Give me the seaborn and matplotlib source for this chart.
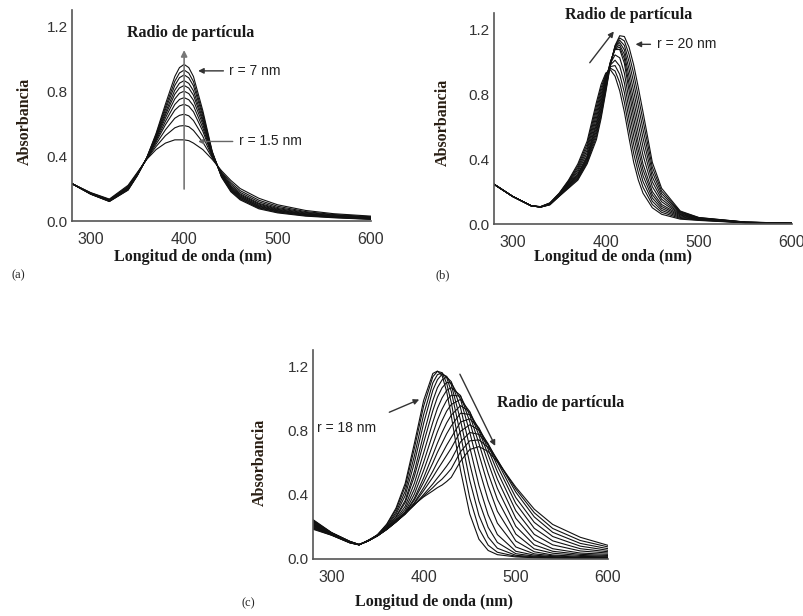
import pandas as pd
import seaborn as sns
import matplotlib.pyplot as plt
from matplotlib.ticker import FormatStrFormatter

# ---- (a) r = 1.5 nm ... 7 nm, peak fixed near 400 nm ----
WL_A = [280, 300, 320, 340, 350, 360, 370, 380, 390, 395, 400, 405, 410,
        420, 430, 440, 450, 460, 480, 500, 530, 560, 600]
ABS_A = [
    [0.23, 0.175, 0.135, 0.22, 0.30, 0.38, 0.44, 0.48, 0.50, 0.50, 0.50, 0.495, 0.48, 0.44, 0.38, 0.31, 0.25, 0.20, 0.14, 0.10, 0.065, 0.045, 0.03],
    [0.23, 0.173, 0.132, 0.214, 0.296, 0.382, 0.459, 0.526, 0.574, 0.585, 0.588, 0.581, 0.558, 0.486, 0.390, 0.302, 0.237, 0.187, 0.128, 0.091, 0.058, 0.040, 0.026],
    [0.23, 0.172, 0.130, 0.210, 0.293, 0.383, 0.474, 0.562, 0.633, 0.651, 0.658, 0.648, 0.619, 0.522, 0.397, 0.296, 0.226, 0.176, 0.118, 0.083, 0.053, 0.037, 0.023],
    [0.23, 0.170, 0.128, 0.206, 0.291, 0.385, 0.487, 0.593, 0.683, 0.709, 0.719, 0.707, 0.673, 0.553, 0.404, 0.291, 0.217, 0.167, 0.109, 0.077, 0.049, 0.033, 0.021],
    [0.23, 0.169, 0.127, 0.203, 0.289, 0.386, 0.496, 0.614, 0.718, 0.749, 0.760, 0.747, 0.710, 0.574, 0.408, 0.288, 0.211, 0.161, 0.104, 0.072, 0.045, 0.031, 0.019],
    [0.23, 0.169, 0.125, 0.201, 0.287, 0.386, 0.505, 0.635, 0.752, 0.787, 0.800, 0.785, 0.744, 0.595, 0.412, 0.284, 0.205, 0.155, 0.098, 0.068, 0.042, 0.029, 0.017],
    [0.23, 0.168, 0.124, 0.198, 0.286, 0.387, 0.512, 0.653, 0.781, 0.820, 0.835, 0.819, 0.775, 0.613, 0.416, 0.281, 0.200, 0.150, 0.093, 0.064, 0.040, 0.027, 0.016],
    [0.23, 0.167, 0.123, 0.196, 0.284, 0.388, 0.519, 0.668, 0.806, 0.849, 0.865, 0.848, 0.802, 0.628, 0.419, 0.279, 0.195, 0.145, 0.089, 0.061, 0.038, 0.025, 0.014],
    [0.23, 0.166, 0.122, 0.194, 0.283, 0.389, 0.526, 0.686, 0.835, 0.883, 0.900, 0.882, 0.833, 0.646, 0.423, 0.276, 0.190, 0.140, 0.084, 0.057, 0.035, 0.024, 0.013],
    [0.23, 0.166, 0.121, 0.192, 0.282, 0.389, 0.533, 0.702, 0.861, 0.912, 0.930, 0.911, 0.859, 0.662, 0.426, 0.273, 0.185, 0.135, 0.080, 0.054, 0.033, 0.022, 0.011],
    [0.23, 0.165, 0.120, 0.190, 0.280, 0.390, 0.540, 0.720, 0.890, 0.945, 0.965, 0.945, 0.890, 0.680, 0.430, 0.270, 0.180, 0.130, 0.075, 0.050, 0.030, 0.020, 0.010],
]

# ---- (b) up to r = 20 nm, small red shift ----
WL_B = [280, 300, 320, 330, 340, 350, 360, 370, 380, 390, 395, 400, 405, 410,
        415, 420, 425, 430, 435, 440, 450, 460, 480, 500, 550, 600]
ABS_B = [
    [0.245, 0.17, 0.112, 0.107, 0.130, 0.190, 0.270, 0.370, 0.510, 0.750, 0.860, 0.930, 0.950, 0.910, 0.820, 0.690, 0.530, 0.380, 0.270, 0.190, 0.100, 0.060, 0.030, 0.022, 0.007, 0.003],
    [0.245, 0.17, 0.112, 0.107, 0.129, 0.188, 0.265, 0.358, 0.492, 0.726, 0.840, 0.921, 0.960, 0.943, 0.871, 0.750, 0.588, 0.435, 0.316, 0.226, 0.120, 0.072, 0.035, 0.024, 0.008, 0.003],
    [0.245, 0.17, 0.112, 0.106, 0.128, 0.186, 0.260, 0.346, 0.474, 0.702, 0.820, 0.912, 0.970, 0.976, 0.922, 0.810, 0.646, 0.490, 0.362, 0.262, 0.140, 0.084, 0.040, 0.026, 0.008, 0.003],
    [0.245, 0.17, 0.112, 0.106, 0.126, 0.184, 0.255, 0.334, 0.456, 0.678, 0.800, 0.903, 0.980, 1.009, 0.973, 0.870, 0.704, 0.545, 0.408, 0.298, 0.160, 0.096, 0.045, 0.027, 0.009, 0.004],
    [0.245, 0.17, 0.112, 0.105, 0.125, 0.182, 0.250, 0.322, 0.438, 0.654, 0.780, 0.894, 0.990, 1.042, 1.024, 0.930, 0.762, 0.600, 0.454, 0.334, 0.180, 0.108, 0.050, 0.029, 0.009, 0.004],
    [0.245, 0.17, 0.112, 0.105, 0.124, 0.180, 0.245, 0.310, 0.420, 0.630, 0.760, 0.885, 1.000, 1.075, 1.075, 0.990, 0.820, 0.655, 0.500, 0.370, 0.200, 0.120, 0.055, 0.031, 0.010, 0.004],
    [0.245, 0.17, 0.112, 0.105, 0.123, 0.178, 0.241, 0.303, 0.412, 0.612, 0.742, 0.873, 0.997, 1.079, 1.089, 1.018, 0.865, 0.709, 0.557, 0.423, 0.230, 0.137, 0.059, 0.033, 0.010, 0.004],
    [0.245, 0.17, 0.112, 0.105, 0.122, 0.177, 0.237, 0.297, 0.403, 0.593, 0.723, 0.860, 0.993, 1.083, 1.103, 1.045, 0.910, 0.763, 0.613, 0.477, 0.260, 0.153, 0.063, 0.034, 0.011, 0.004],
    [0.245, 0.17, 0.112, 0.1045, 0.121, 0.175, 0.233, 0.290, 0.395, 0.575, 0.705, 0.848, 0.990, 1.088, 1.118, 1.073, 0.955, 0.818, 0.670, 0.530, 0.290, 0.170, 0.068, 0.036, 0.011, 0.0045],
    [0.245, 0.17, 0.112, 0.104, 0.120, 0.173, 0.228, 0.283, 0.387, 0.557, 0.687, 0.835, 0.987, 1.092, 1.132, 1.100, 1.000, 0.872, 0.727, 0.583, 0.320, 0.187, 0.072, 0.037, 0.011, 0.0047],
    [0.245, 0.17, 0.112, 0.104, 0.119, 0.172, 0.224, 0.277, 0.378, 0.538, 0.668, 0.823, 0.983, 1.096, 1.146, 1.128, 1.045, 0.926, 0.783, 0.637, 0.350, 0.203, 0.076, 0.039, 0.012, 0.0048],
    [0.245, 0.17, 0.112, 0.104, 0.118, 0.170, 0.220, 0.270, 0.370, 0.520, 0.650, 0.810, 0.980, 1.100, 1.160, 1.155, 1.090, 0.980, 0.840, 0.690, 0.380, 0.220, 0.080, 0.040, 0.012, 0.005],
]

# ---- (c) from r = 18 nm upwards, strong red shift and broadening ----
WL_C = [280, 300, 320, 330, 340, 350, 360, 370, 380, 390, 400, 410, 415,
        420, 425, 430, 440, 450, 460, 470, 480, 500, 520, 540, 570, 600]
ABS_C = [
    [0.245, 0.165, 0.110, 0.090, 0.113, 0.152, 0.217, 0.316, 0.470, 0.720, 0.986, 1.154, 1.169, 1.142, 1.041, 0.890, 0.552, 0.281, 0.123, 0.053, 0.027, 0.013, 0.008, 0.005, 0.003, 0.003],
    [0.241, 0.164, 0.109, 0.090, 0.113, 0.150, 0.214, 0.306, 0.450, 0.689, 0.951, 1.134, 1.167, 1.159, 1.093, 0.973, 0.664, 0.380, 0.189, 0.086, 0.042, 0.017, 0.011, 0.008, 0.004, 0.003],
    [0.237, 0.163, 0.109, 0.090, 0.112, 0.150, 0.206, 0.291, 0.421, 0.642, 0.898, 1.096, 1.147, 1.157, 1.128, 1.043, 0.774, 0.490, 0.271, 0.136, 0.067, 0.023, 0.014, 0.010, 0.006, 0.0045],
    [0.233, 0.162, 0.108, 0.090, 0.113, 0.148, 0.202, 0.278, 0.394, 0.599, 0.844, 1.050, 1.115, 1.149, 1.136, 1.084, 0.863, 0.594, 0.360, 0.197, 0.103, 0.033, 0.018, 0.012, 0.007, 0.005],
    [0.229, 0.160, 0.107, 0.089, 0.113, 0.146, 0.196, 0.264, 0.364, 0.546, 0.776, 0.986, 1.066, 1.114, 1.132, 1.103, 0.941, 0.696, 0.458, 0.274, 0.152, 0.048, 0.024, 0.015, 0.009, 0.006],
    [0.225, 0.159, 0.107, 0.089, 0.113, 0.147, 0.195, 0.259, 0.351, 0.515, 0.723, 0.923, 1.007, 1.065, 1.098, 1.095, 0.994, 0.789, 0.563, 0.367, 0.223, 0.075, 0.032, 0.020, 0.011, 0.0085],
    [0.221, 0.158, 0.106, 0.089, 0.113, 0.146, 0.190, 0.248, 0.328, 0.472, 0.660, 0.851, 0.938, 1.002, 1.049, 1.066, 1.017, 0.855, 0.651, 0.456, 0.297, 0.112, 0.045, 0.025, 0.016, 0.0135],
    [0.217, 0.157, 0.105, 0.089, 0.113, 0.144, 0.188, 0.240, 0.310, 0.435, 0.602, 0.779, 0.864, 0.932, 0.987, 1.019, 1.013, 0.896, 0.719, 0.533, 0.371, 0.155, 0.063, 0.036, 0.022, 0.017],
    [0.213, 0.156, 0.105, 0.089, 0.113, 0.144, 0.185, 0.233, 0.295, 0.404, 0.551, 0.712, 0.792, 0.861, 0.920, 0.961, 0.993, 0.917, 0.769, 0.599, 0.439, 0.203, 0.088, 0.048, 0.029, 0.022],
    [0.209, 0.155, 0.104, 0.089, 0.114, 0.144, 0.183, 0.230, 0.286, 0.378, 0.505, 0.648, 0.721, 0.787, 0.847, 0.895, 0.954, 0.915, 0.799, 0.648, 0.496, 0.253, 0.118, 0.064, 0.037, 0.029],
    [0.205, 0.154, 0.103, 0.089, 0.114, 0.144, 0.185, 0.231, 0.285, 0.368, 0.477, 0.598, 0.664, 0.721, 0.779, 0.828, 0.907, 0.899, 0.813, 0.683, 0.543, 0.300, 0.153, 0.088, 0.050, 0.037],
    [0.201, 0.153, 0.103, 0.089, 0.114, 0.145, 0.184, 0.230, 0.279, 0.351, 0.444, 0.546, 0.603, 0.655, 0.708, 0.756, 0.852, 0.872, 0.814, 0.707, 0.579, 0.345, 0.191, 0.113, 0.064, 0.045],
    [0.197, 0.151, 0.102, 0.088, 0.115, 0.146, 0.186, 0.232, 0.282, 0.346, 0.425, 0.509, 0.556, 0.600, 0.645, 0.690, 0.794, 0.835, 0.802, 0.717, 0.605, 0.382, 0.228, 0.140, 0.080, 0.054],
    [0.193, 0.150, 0.101, 0.088, 0.116, 0.146, 0.187, 0.233, 0.279, 0.336, 0.401, 0.467, 0.504, 0.540, 0.578, 0.619, 0.728, 0.787, 0.775, 0.712, 0.617, 0.416, 0.262, 0.166, 0.097, 0.064],
    [0.189, 0.149, 0.101, 0.088, 0.116, 0.148, 0.188, 0.236, 0.285, 0.337, 0.392, 0.444, 0.473, 0.497, 0.528, 0.562, 0.667, 0.735, 0.741, 0.694, 0.615, 0.435, 0.288, 0.190, 0.115, 0.075],
    [0.185, 0.148, 0.100, 0.088, 0.117, 0.149, 0.191, 0.240, 0.292, 0.340, 0.386, 0.424, 0.444, 0.460, 0.482, 0.508, 0.608, 0.681, 0.699, 0.669, 0.605, 0.447, 0.310, 0.215, 0.135, 0.085],
]

X_LABEL = "Longitud de onda (nm)"
Y_LABEL = "Absorbancia"
RADIO = "Radio de partícula"


def long_form(wl, rows):
    parts = [pd.DataFrame({"wl": wl, "absorbancia": vals, "curva": k})
             for k, vals in enumerate(rows)]
    return pd.concat(parts, ignore_index=True)


sns.set_style("white")
plt.rcParams["font.family"] = ["Liberation Sans", "DejaVu Sans"]
SERIF = ["Liberation Serif", "DejaVu Serif"]

W, H = 804, 616
fig = plt.figure(figsize=(W / 100, H / 100), dpi=100)


def add_panel(left, right, bottom, top):
    return fig.add_axes([left / W, 1 - bottom / H, (right - left) / W, (bottom - top) / H])


def style(ax, xlab_pos, ylab_pos):
    ax.set_xlim(280, 600)
    ax.set_ylim(0, 1.3)
    ax.set_xticks([300, 400, 500, 600])
    ax.set_xticks([350, 450, 550], minor=True)
    ax.set_yticks([0, 0.4, 0.8, 1.2])
    ax.set_yticks([0.2, 0.6, 1.0], minor=True)
    ax.yaxis.set_major_formatter(FormatStrFormatter("%.1f"))
    for s in ("top", "right"):
        ax.spines[s].set_visible(False)
    for s in ("left", "bottom"):
        ax.spines[s].set_color("#555555")
        ax.spines[s].set_linewidth(1.2)
    ax.tick_params(which="both", direction="in", color="#555555",
                   labelcolor="#333333", top=False, right=False)
    ax.tick_params(which="major", length=3.5, width=1)
    ax.tick_params(which="minor", length=2.5, width=0.8)
    ax.tick_params(axis="x", pad=8, labelsize=11.5)
    ax.tick_params(axis="y", pad=3, labelsize=11)
    ax.set_xlabel("")
    ax.set_ylabel("")
    ax.text(*xlab_pos, X_LABEL, transform=ax.transAxes, ha="center", va="center",
            family=SERIF, fontweight="bold", fontsize=11.5, color="#1a1a1a")
    ax.text(*ylab_pos, Y_LABEL, transform=ax.transAxes, ha="center", va="center",
            rotation=90, family=SERIF, fontweight="bold", fontsize=11.5, color="#2a1f14")


def draw(ax, wl, rows):
    sns.lineplot(data=long_form(wl, rows), x="wl", y="absorbancia", units="curva",
                 estimator=None, color="#111111", linewidth=0.8, ax=ax, legend=False)


ax_a = add_panel(72, 371, 221, 10)
ax_b = add_panel(494, 792, 224, 13)
ax_c = add_panel(313, 608, 559, 350)

draw(ax_a, WL_A, ABS_A)
draw(ax_b, WL_B, ABS_B)
draw(ax_c, WL_C, ABS_C)

style(ax_a, (0.405, -0.171), (-0.157, 0.47))
style(ax_b, (0.40, -0.157), (-0.171, 0.48))
style(ax_c, (0.41, -0.205), (-0.18, 0.463))

dark = "#333333"

# (a)
ax_a.annotate("", xy=(400, 1.07), xytext=(400, 0.18),
              arrowprops=dict(arrowstyle="-|>", color="#777777", lw=1.2, mutation_scale=9))
ax_a.text(407, 1.16, RADIO, ha="center", va="center", family=SERIF,
          fontweight="bold", fontsize=11.5, color="#1a1a1a")
ax_a.annotate("", xy=(412, 0.925), xytext=(445, 0.925),
              arrowprops=dict(arrowstyle="-|>", color=dark, lw=1, mutation_scale=8))
ax_a.text(448, 0.925, "r = 7 nm", ha="left", va="center", fontsize=10, color="#222222")
ax_a.annotate("", xy=(412, 0.49), xytext=(455, 0.49),
              arrowprops=dict(arrowstyle="-|>", color="#666666", lw=1, mutation_scale=7))
ax_a.text(459, 0.49, "r = 1.5 nm", ha="left", va="center", fontsize=10, color="#222222")

# (b)
ax_b.text(425, 1.288, RADIO, ha="center", va="center", family=SERIF,
          fontweight="bold", fontsize=11.5, color="#1a1a1a", clip_on=False)
ax_b.annotate("", xy=(410.5, 1.2), xytext=(381, 0.98),
              arrowprops=dict(arrowstyle="-|>", color=dark, lw=1, mutation_scale=8))
ax_b.annotate("", xy=(429, 1.107), xytext=(451, 1.107),
              arrowprops=dict(arrowstyle="-|>", color=dark, lw=1, mutation_scale=8))
ax_b.text(455, 1.107, "r = 20 nm", ha="left", va="center", fontsize=10, color="#222222")

# (c)
ax_c.text(480, 0.968, RADIO, ha="left", va="center", family=SERIF,
          fontweight="bold", fontsize=11.5, color="#1a1a1a", clip_on=False)
ax_c.annotate("", xy=(479, 0.688), xytext=(438, 1.165),
              arrowprops=dict(arrowstyle="-|>", color=dark, lw=1, mutation_scale=8))
ax_c.annotate("", xy=(398, 0.999), xytext=(360, 0.906),
              arrowprops=dict(arrowstyle="-|>", color=dark, lw=1, mutation_scale=8))
ax_c.text(284, 0.813, "r = 18 nm", ha="left", va="center", fontsize=10, color="#222222")

fig.text(18 / W, 1 - 275 / H, "(a)", family=SERIF, fontsize=9, ha="center", va="center")
fig.text(443 / W, 1 - 275 / H, "(b)", family=SERIF, fontsize=9, ha="center", va="center")
fig.text(248 / W, 1 - 603 / H, "(c)", family=SERIF, fontsize=9, ha="center", va="center")

fig.savefig("out.png", dpi=100)
